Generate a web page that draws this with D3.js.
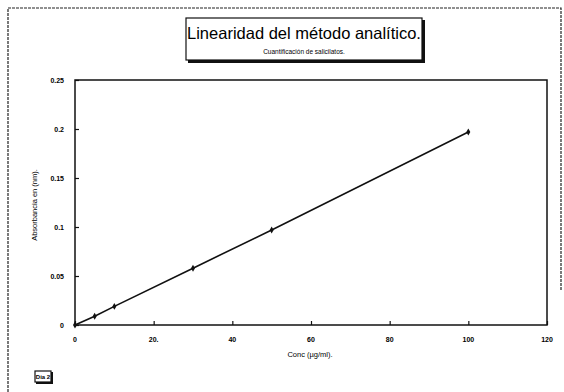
<!DOCTYPE html>
<html>
<head>
<meta charset="utf-8">
<script src="https://cdn.jsdelivr.net/npm/d3@7"></script>
<style>
body { margin: 0; background: #fff; }
text { font-family: Arial, "Liberation Sans", sans-serif; }
</style>
</head>
<body>
<script>
var conc = [0, 5, 10, 30, 50, 100];
var absorb = [0, 0.009, 0.019, 0.058, 0.097, 0.197];
var xTicks = [0, 20, 40, 60, 80, 100, 120];
var xTickLabels = ["0", "20.", "40", "60", "80", "100", "120"];
var yTicks = [0, 0.05, 0.1, 0.15, 0.2, 0.25];
var yTickLabels = ["0", "0.05", "0.1", "0.15", "0.2", "0.25"];

var W = 564, H = 392;
var plot = {left: 75, right: 547, top: 80, bottom: 325};

var xScale = d3.scaleLinear()
               .domain([0, 120])
               .range([plot.left, plot.right]);

var yScale = d3.scaleLinear()
               .domain([0, 0.25])
               .range([plot.bottom, plot.top]);

var svg = d3.select("body")
            .append("svg")
            .attr("width", W)
            .attr("height", H);

//outer frame of the page
svg.append("path")
   .attr("d", "M8,392 L8,8 L561,8 L561,290")
   .attr("fill", "none")
   .attr("stroke", "#222")
   .attr("stroke-width", 1.2)
   .attr("stroke-dasharray", "3,1");

//title box with shadow
svg.append("rect")
   .attr("x", 188).attr("y", 20)
   .attr("width", 237).attr("height", 43)
   .attr("fill", "#111");
svg.append("rect")
   .attr("x", 186).attr("y", 18)
   .attr("width", 236).attr("height", 42)
   .attr("fill", "#fff")
   .attr("stroke", "#111")
   .attr("stroke-width", 1.2);

svg.append("text")
   .attr("x", 304).attr("y", 39)
   .attr("text-anchor", "middle")
   .attr("font-size", 16.5)
   .attr("fill", "#000")
   .text("Linearidad del método analítico.");

svg.append("text")
   .attr("x", 304).attr("y", 54)
   .attr("text-anchor", "middle")
   .attr("font-size", 6.5)
   .attr("fill", "#000")
   .text("Cuantificación de salicilatos.");

//plot frame
svg.append("rect")
   .attr("x", plot.left).attr("y", plot.top)
   .attr("width", plot.right - plot.left)
   .attr("height", plot.bottom - plot.top)
   .attr("fill", "none")
   .attr("stroke", "#111")
   .attr("stroke-width", 1.5);

//axes with inward ticks
var xAxis = d3.axisTop(xScale)
              .tickValues(xTicks)
              .tickSize(4)
              .tickFormat("");
svg.append("g")
   .attr("transform", "translate(0," + plot.bottom + ")")
   .call(xAxis)
   .call(function(g){ g.select(".domain").remove(); })
   .selectAll("line").attr("stroke", "#111").attr("stroke-width", 1.2);

var yAxis = d3.axisRight(yScale)
              .tickValues(yTicks)
              .tickSize(4)
              .tickFormat("");
svg.append("g")
   .attr("transform", "translate(" + plot.left + ",0)")
   .call(yAxis)
   .call(function(g){ g.select(".domain").remove(); })
   .selectAll("line").attr("stroke", "#111").attr("stroke-width", 1.2);

//tick labels
svg.selectAll(".xlab")
   .data(xTicks)
   .enter()
   .append("text")
   .attr("class", "xlab")
   .attr("x", function(d){ return xScale(d); })
   .attr("y", 342)
   .attr("text-anchor", "middle")
   .attr("font-size", 7)
   .attr("font-weight", "bold")
   .text(function(d, i){ return xTickLabels[i]; });

svg.selectAll(".ylab")
   .data(yTicks)
   .enter()
   .append("text")
   .attr("class", "ylab")
   .attr("x", 64)
   .attr("y", function(d){ return yScale(d) + 2.5; })
   .attr("text-anchor", "end")
   .attr("font-size", 7)
   .attr("font-weight", "bold")
   .text(function(d, i){ return yTickLabels[i]; });

//axis titles
svg.append("text")
   .attr("x", 310).attr("y", 357)
   .attr("text-anchor", "middle")
   .attr("font-size", 7.5)
   .text("Conc  (µg/ml).");

svg.append("text")
   .attr("transform", "translate(37,205) rotate(-90)")
   .attr("text-anchor", "middle")
   .attr("font-size", 7.5)
   .text("Absorbancia en (nm).");

//data line and points
var line = d3.line()
             .x(function(d){ return xScale(d[0]); })
             .y(function(d){ return yScale(d[1]); });

var data = conc.map(function(c, i){ return [c, absorb[i]]; });

svg.append("path")
   .datum(data)
   .attr("d", line)
   .attr("fill", "none")
   .attr("stroke", "#111")
   .attr("stroke-width", 1.6);

svg.selectAll(".pt")
   .data(data)
   .enter()
   .append("path")
   .attr("class", "pt")
   .attr("d", d3.symbol().type(d3.symbolDiamond).size(14))
   .attr("transform", function(d){ return "translate(" + xScale(d[0]) + "," + yScale(d[1]) + ")"; })
   .attr("fill", "#111");

//"Dia 2" box
svg.append("rect")
   .attr("x", 36).attr("y", 372)
   .attr("width", 17).attr("height", 12)
   .attr("fill", "#111");
svg.append("rect")
   .attr("x", 35).attr("y", 371)
   .attr("width", 16).attr("height", 11)
   .attr("fill", "#fff")
   .attr("stroke", "#111")
   .attr("stroke-width", 1.2);
svg.append("text")
   .attr("x", 43).attr("y", 379)
   .attr("text-anchor", "middle")
   .attr("font-size", 6)
   .attr("font-weight", "bold")
   .text("Dia 2");
</script>
</body>
</html>
